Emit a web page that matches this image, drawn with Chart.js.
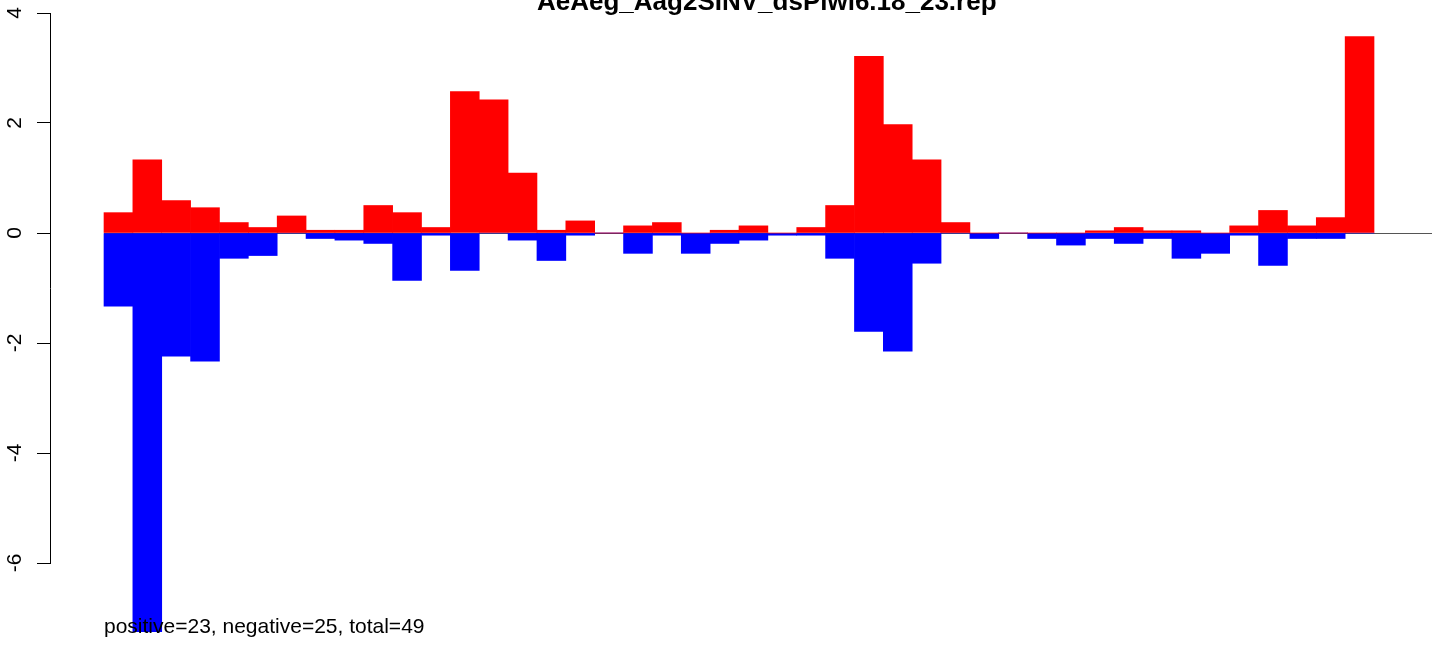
<!DOCTYPE html>
<html>
<head>
<meta charset="utf-8">
<script src="https://cdn.jsdelivr.net/npm/chart.js@4/dist/chart.umd.min.js"></script>
<style>
  html, body { margin: 0; padding: 0; background: #fff; }
  #chart { display: block; }
</style>
</head>
<body>
<canvas id="chart" width="1444" height="645"></canvas>
<script>
// values
const titleText = 'AeAeg_Aag2SINV_dsPiwi6.18_23.rep';
const footText = 'positive=23, negative=25, total=49';

const positive = [0.37, 1.33, 0.59, 0.46, 0.19, 0.10, 0.31, 0.05, 0.05, 0.50, 0.37,
    0.10, 2.57, 2.42, 1.09, 0.05, 0.22, 0, 0.13, 0.19, 0, 0.05, 0.13, 0, 0.10, 0.50,
    3.21, 1.97, 1.33, 0.19, 0, 0, 0, 0, 0.04, 0.10, 0.04, 0.04, 0, 0.13, 0.41, 0.13,
    0.28, 3.57];
const negative = [-1.33, -7.25, -2.24, -2.33, -0.46, -0.41, 0, -0.10, -0.13, -0.19,
    -0.86, -0.04, -0.68, 0, -0.13, -0.50, -0.04, 0, -0.37, -0.04, -0.37, -0.19, -0.13,
    -0.04, -0.04, -0.46, -1.79, -2.15, -0.55, 0, -0.10, 0, -0.10, -0.22, -0.10, -0.19,
    -0.10, -0.46, -0.37, -0.04, -0.59, -0.10, -0.10, 0];
const yTicks = [-6, -4, -2, 0, 2, 4];

const FONT = '"Liberation Sans", Arial, Helvetica, sans-serif';

function toPoints(values) {
    return values.map(function(v, i) {
        return { x: i + 0.5, y: v };
    });
}

// zero line from the first bar to the right edge, drawn under the bars
const zeroLine = {
    id: 'zeroLine',
    beforeDatasetsDraw: function(chart) {
        const ctx = chart.ctx;
        const x = chart.scales.x;
        const y = chart.scales.y;
        const py = Math.round(y.getPixelForValue(0)) + 0.5;
        ctx.save();
        ctx.strokeStyle = '#555555';
        ctx.lineWidth = 1;
        ctx.beginPath();
        ctx.moveTo(x.getPixelForValue(0), py);
        ctx.lineTo(chart.chartArea.right, py);
        ctx.stroke();
        ctx.restore();
    }
};

// title (partly cut off at the top) and the note at the bottom
const texts = {
    id: 'texts',
    afterDraw: function(chart) {
        const ctx = chart.ctx;
        ctx.save();
        ctx.fillStyle = '#000';
        ctx.textBaseline = 'alphabetic';
        ctx.font = 'bold 26px ' + FONT;
        ctx.textAlign = 'left';
        ctx.fillText(titleText, 537, 10);
        ctx.font = '21px ' + FONT;
        ctx.fillText(footText, 104, 633);
        ctx.restore();
    }
};

new Chart(document.getElementById('chart'), {
    type: 'bar',
    data: {
        datasets: [{
            data: toPoints(positive),
            backgroundColor: '#ff0000',
            borderWidth: 0,
            grouped: false,
            barPercentage: 1,
            categoryPercentage: 1,
            clip: false
        }, {
            data: toPoints(negative),
            backgroundColor: '#0000ff',
            borderWidth: 0,
            grouped: false,
            barPercentage: 1,
            categoryPercentage: 1,
            clip: false
        }]
    },
    options: {
        responsive: false,
        animation: false,
        layout: {
            padding: { left: 0, top: 13, right: 12, bottom: 82 }
        },
        plugins: {
            legend: { display: false },
            title: { display: false },
            tooltip: { enabled: false }
        },
        scales: {
            x: {
                type: 'linear',
                display: false,
                offset: false,
                bounds: 'data',
                min: -1.871,
                max: 46.009
            },
            y: {
                min: -6,
                max: 4,
                afterFit: function(scale) {
                    scale.width = 50;
                    scale.paddingTop = 0;
                    scale.paddingBottom = 0;
                },
                afterBuildTicks: function(scale) {
                    scale.ticks = yTicks.map(function(v) { return { value: v }; });
                },
                border: { display: true, color: '#000', width: 1 },
                grid: {
                    drawOnChartArea: false,
                    drawTicks: true,
                    tickLength: 13,
                    color: '#000',
                    lineWidth: 1
                },
                ticks: {
                    minRotation: 90,
                    maxRotation: 90,
                    crossAlign: 'center',
                    padding: 12,
                    color: '#000',
                    font: { family: FONT, size: 21 }
                }
            }
        }
    },
    plugins: [zeroLine, texts]
});
</script>
</body>
</html>
